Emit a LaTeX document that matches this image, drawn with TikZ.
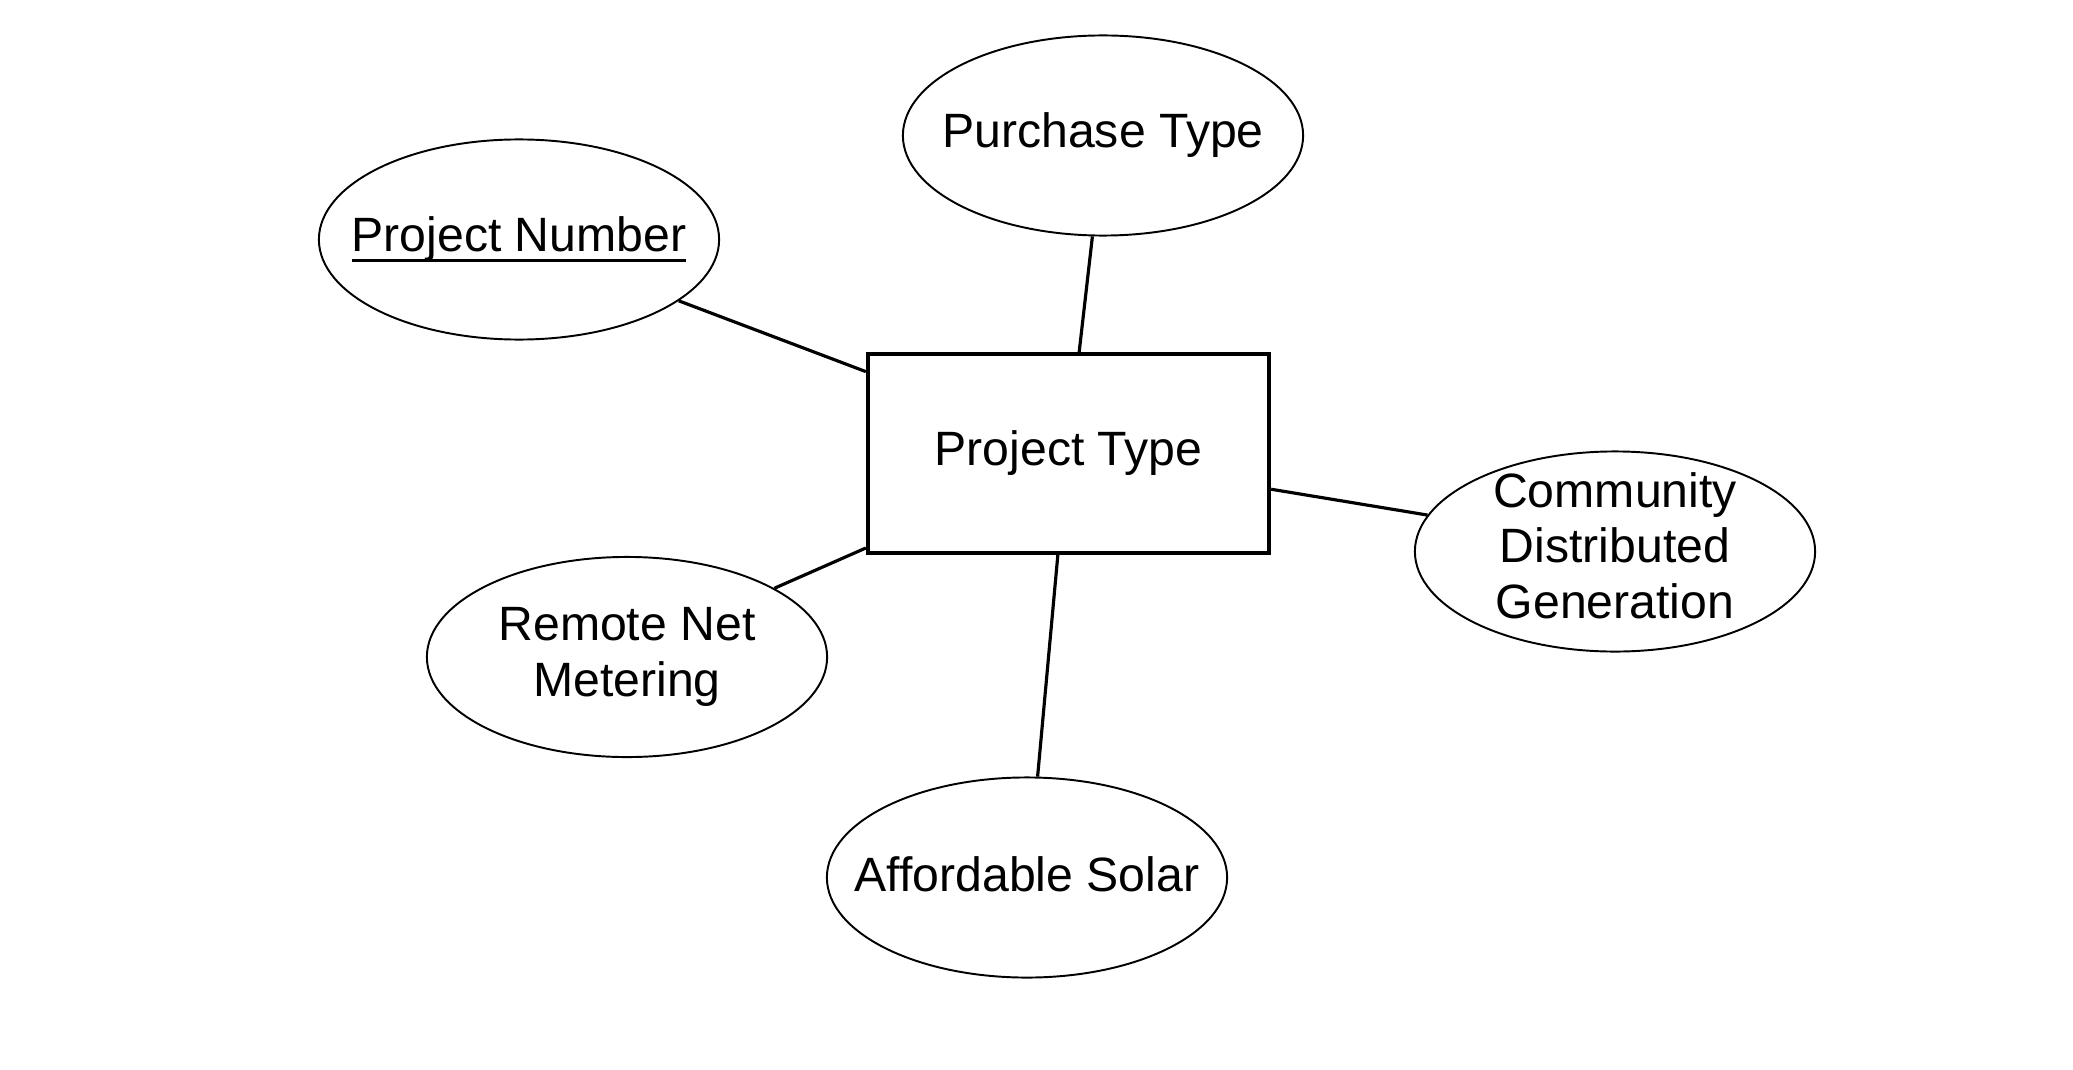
\documentclass[tikz,border=0pt]{standalone}
\usepackage{fontspec}
\setmainfont{Liberation Sans}
\usetikzlibrary{shapes.geometric}
\newcommand\myul[1]{\setbox0\hbox{#1}\rlap{\vrule height -1.9pt depth 2.8pt width \wd0}\box0}
\tikzset{
  attr/.style={ellipse, draw, line width=0.55pt, minimum width=4.0cm, minimum height=2.0cm, inner xsep=-4cm, inner ysep=-2cm, align=center, font=\fontsize{13.7pt}{15.8pt}\selectfont},
  ent/.style={rectangle, draw, line width=1.15pt, minimum width=4.01cm, minimum height=1.99cm, inner sep=0pt, align=center, font=\fontsize{13.7pt}{15.8pt}\selectfont},
  conn/.style={line width=0.9pt}
}
\begin{document}
\begin{tikzpicture}[x=0.01cm,y=-0.01cm]
\useasboundingbox (0,0) rectangle (2073,1070);
\node[ent] (r) at (1068.5,453.5) {Project Type};
\node[attr] (pt) at (1103,135.5) {Purchase Type};
\node[attr] (pn) at (519,239.5) {\myul{Project Number}};
\node[attr] (cdg) at (1615,551.5) {\begin{tabular}{@{}c@{}}Community\\Distributed\\Generation\end{tabular}};
\node[attr] (rnm) at (627,657) {Remote Net\\Metering};
\node[attr] (as) at (1027,877.5) {\raisebox{2pt}{Affordable Solar}};
\draw[conn] (pt.-96.2) -- (r.84.6);
\draw[conn] (pn.-21.4) -- (r.158.5);
\draw[conn] (r.-10) -- (cdg.169.5);
\draw[conn] (r.-155.8) -- (rnm.25.5);
\draw[conn] (r.-96) -- (as.84.9);
\end{tikzpicture}
\end{document}
